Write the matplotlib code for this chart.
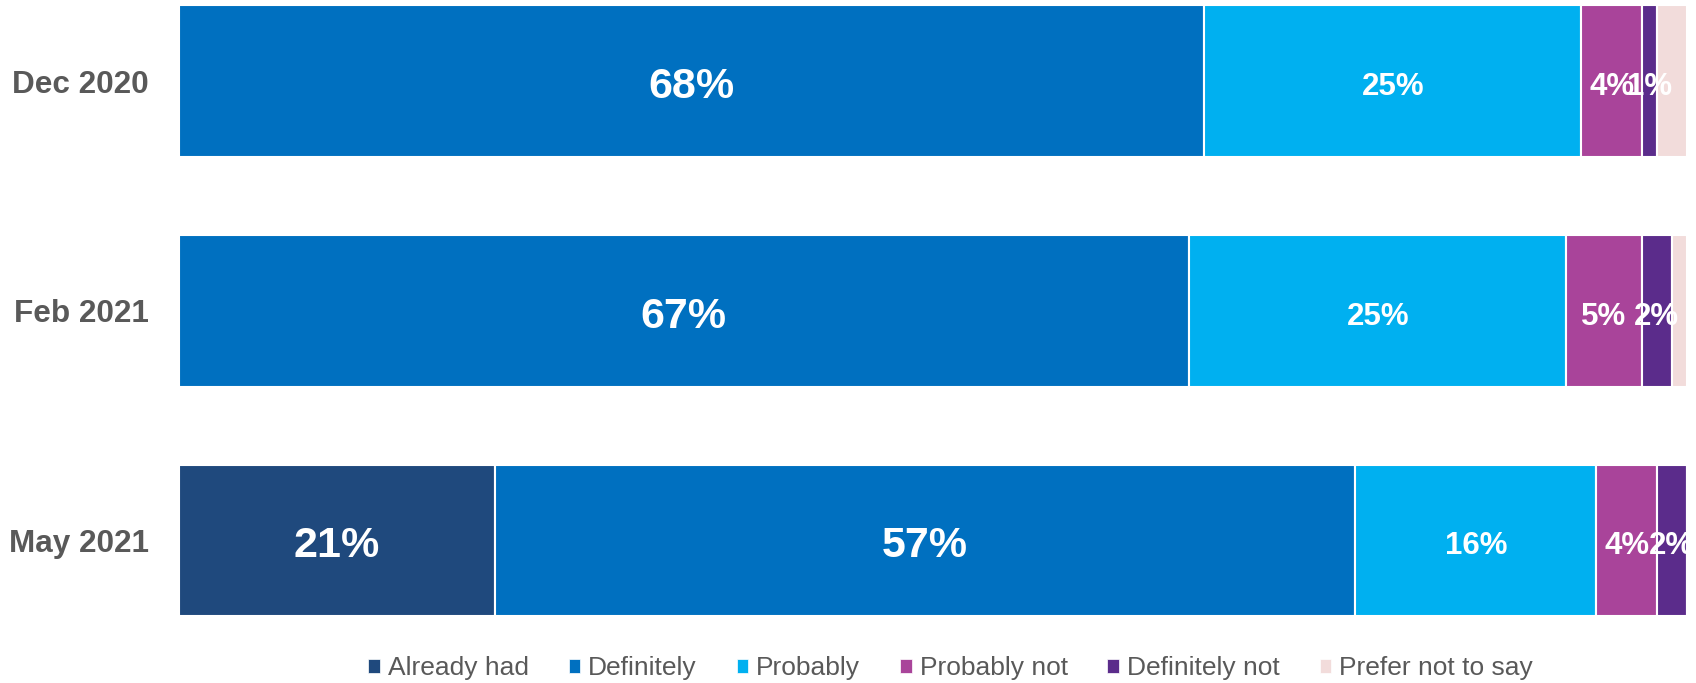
import numpy as np
import matplotlib.pyplot as plt
from matplotlib.patches import Patch

plt.rcParams['font.family'] = ['Liberation Sans', 'DejaVu Sans']

waves = ["Dec 2020", "Feb 2021", "May 2021"]
categories = ["Already had", "Definitely", "Probably", "Probably not",
              "Definitely not", "Prefer not to say"]
colors = ["#1F497D", "#0070C0", "#00B0F0", "#A9449A", "#5B2C8B", "#F2DCDB"]

already_had = [0, 0, 21]
definitely = [68, 67, 57]
probably = [25, 25, 16]
probably_not = [4, 5, 4]
definitely_not = [1, 2, 2]
prefer_not = [2, 1, 0]

series = [already_had, definitely, probably, probably_not, definitely_not, prefer_not]
big_label = [True, True, False, False, False, False]
show_label = [True, True, True, True, True, False]

fig = plt.figure(figsize=(16.96, 6.83), dpi=100)
ax = fig.add_axes([178.5 / 1696, 1 - 621 / 683, (1687 - 178.5) / 1696, 620.4 / 683])

y = np.arange(len(waves))
left = np.zeros(len(waves))
for i, vals in enumerate(series):
    vals = np.array(vals, dtype=float)
    ax.barh(y, vals, left=left, height=0.66, color=colors[i],
            edgecolor="white", linewidth=1.5)
    if show_label[i]:
        for j, v in enumerate(vals):
            if v > 0:
                ax.text(left[j] + v / 2, y[j] + 0.025, f"{v:.0f}%", ha="center", va="center",
                        color="white", fontweight="bold",
                        fontsize=31 if big_label[i] else 22.5, clip_on=True)
    left += vals

ax.set_xlim(0, 100)
ax.set_ylim(2.35, -0.35)
ax.set_yticks(y)
ax.set_yticklabels(waves, fontsize=22.7, fontweight="bold", color="#595959")
ax.tick_params(axis="y", length=0, pad=21.5)
ax.set_xticks([])
for s in ax.spines.values():
    s.set_visible(False)

handles = [Patch(facecolor=c, edgecolor="white", linewidth=0.5) for c in colors]
fig.legend(handles, categories, loc="center", bbox_to_anchor=(0.5605, 1 - 668 / 683),
           ncol=6, frameon=False, fontsize=19, labelcolor="#595959",
           handlelength=0.45, handleheight=0.45, handletextpad=0.3,
           columnspacing=1.5, borderaxespad=0)

fig.savefig("out.png", dpi=100)
